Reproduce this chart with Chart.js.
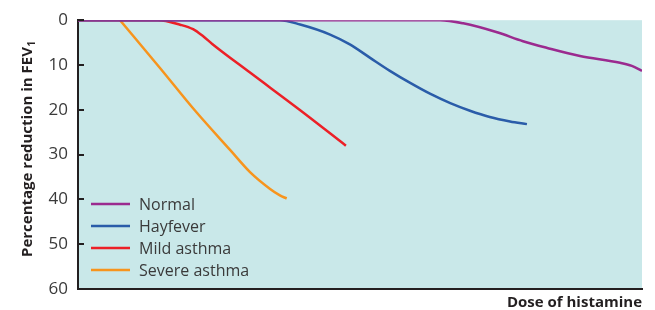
<!DOCTYPE html>
<html>
<head>
<meta charset="utf-8">
<script src="https://cdn.jsdelivr.net/npm/chart.js@4.4.1/dist/chart.umd.min.js"></script>
<style>
  html, body { margin: 0; padding: 0; background: #fff; }
  #wrap { width: 655px; height: 310px; }
</style>
</head>
<body>
<div id="wrap"><canvas id="chart"></canvas></div>
<script>
// Dose is on an arbitrary 0-100 scale (no tick labels on the x axis)
const normalDose = [0, 64.2, 68.3, 74.3, 78.9, 83.2, 89, 96.1, 98.2, 100];
const normalDrop = [0, 0, 0.7, 2.7, 4.7, 6.2, 8.0, 9.5, 10.2, 11.3];

const hayfeverDose = [0, 35.8, 39.4, 44.7, 48.2, 51.8, 55.3, 58.9, 62.4, 66, 69.5, 73, 76.6, 79.6];
const hayfeverDrop = [0, 0, 0.96, 3.2, 5.4, 8.4, 11.3, 14.0, 16.4, 18.5, 20.2, 21.6, 22.6, 23.2];

const mildDose = [0, 14.2, 18.1, 20.4, 22.2, 23.8, 30.5, 39.4, 47.5];
const mildDrop = [0, 0, 1.0, 2.0, 3.6, 5.3, 11.7, 20.1, 28.0];

const severeDose = [7.45, 14.5, 20.7, 27.0, 30.5, 34.0, 35.8, 37.0];
const severeDrop = [0, 10.6, 20.1, 29.0, 33.9, 37.6, 39.1, 39.8];

const seriesNames = ['Normal', 'Hayfever', 'Mild asthma', 'Severe asthma'];
const yTicks = [0, 10, 20, 30, 40, 50, 60];

const colors = {
    normal: '#9b2a8f',
    hayfever: '#2a5ca9',
    mild: '#ec2027',
    severe: '#f7941d',
    plotBg: '#c9e8e9',
    axis: '#231f20',
    text: '#3a3a3a'
};

const FONT = '"Open Sans", "Noto Sans", sans-serif';

function toPoints(xs, ys) {
    return xs.map((x, i) => ({ x: x, y: ys[i] }));
}

function lineSet(label, xs, ys, color) {
    return {
        label: label,
        data: toPoints(xs, ys),
        borderColor: color,
        backgroundColor: color,
        borderWidth: 2.5,
        pointRadius: 0,
        fill: false,
        cubicInterpolationMode: 'monotone'
    };
}

// background, inward ticks, y title and legend inside the plot
const decor = {
    id: 'decor',
    beforeDraw(chart) {
        const a = chart.chartArea;
        const ctx = chart.ctx;
        ctx.save();
        ctx.fillStyle = colors.plotBg;
        ctx.fillRect(a.left, a.top, a.right - a.left, a.bottom - a.top);
        ctx.restore();
    },
    afterDraw(chart) {
        const a = chart.chartArea;
        const ctx = chart.ctx;
        const yScale = chart.scales.y;
        ctx.save();

        // tick marks pointing into the plot
        ctx.strokeStyle = colors.axis;
        ctx.lineWidth = 2;
        yTicks.forEach(v => {
            const py = Math.round(yScale.getPixelForValue(v));
            ctx.beginPath();
            ctx.moveTo(a.left, py);
            ctx.lineTo(a.left + 6, py);
            ctx.stroke();
        });

        // y axis title with subscript 1
        ctx.translate(32, 257);
        ctx.rotate(-Math.PI / 2);
        ctx.fillStyle = colors.axis;
        ctx.textAlign = 'left';
        ctx.textBaseline = 'alphabetic';
        ctx.font = 'bold 15px ' + FONT;
        const main = 'Percentage reduction in FEV';
        ctx.fillText(main, 0, 0);
        const w = ctx.measureText(main).width;
        ctx.font = 'bold 10px ' + FONT;
        ctx.fillText('1', w + 0.5, 3);
        ctx.restore();

        // legend
        ctx.save();
        ctx.font = '16px ' + FONT;
        ctx.textBaseline = 'middle';
        ctx.textAlign = 'left';
        chart.data.datasets.forEach((ds, i) => {
            const y = 204 + i * 22;
            ctx.strokeStyle = ds.borderColor;
            ctx.lineWidth = 2.5;
            ctx.beginPath();
            ctx.moveTo(91, y);
            ctx.lineTo(130, y);
            ctx.stroke();
            ctx.fillStyle = colors.text;
            ctx.fillText(ds.label, 139, y + 1);
        });
        ctx.restore();
    }
};

new Chart(document.getElementById('chart'), {
    type: 'line',
    data: {
        datasets: [
            lineSet(seriesNames[0], normalDose, normalDrop, colors.normal),
            lineSet(seriesNames[1], hayfeverDose, hayfeverDrop, colors.hayfever),
            lineSet(seriesNames[2], mildDose, mildDrop, colors.mild),
            lineSet(seriesNames[3], severeDose, severeDrop, colors.severe)
        ]
    },
    options: {
        responsive: true,
        maintainAspectRatio: false,
        animation: false,
        layout: { padding: { top: 19, right: 13, left: 0, bottom: 0 } },
        plugins: {
            legend: { display: false },
            tooltip: { enabled: false }
        },
        scales: {
            x: {
                type: 'linear',
                min: 0,
                max: 100,
                ticks: { display: false },
                grid: { display: false, drawTicks: false },
                border: { display: true, color: colors.axis, width: 2 },
                title: {
                    display: true,
                    text: 'Dose of histamine',
                    align: 'end',
                    color: colors.axis,
                    padding: 0,
                    font: { family: FONT, size: 15, weight: 'bold', lineHeight: 1 }
                },
                afterFit(scale) { scale.height = 21; }
            },
            y: {
                type: 'linear',
                reverse: true,
                min: 0,
                max: 60,
                afterBuildTicks(scale) { scale.ticks = yTicks.map(v => ({ value: v })); },
                ticks: {
                    padding: 10,
                    color: colors.text,
                    font: { family: FONT, size: 17 }
                },
                grid: { display: false, drawTicks: false },
                border: { display: true, color: colors.axis, width: 2 },
                afterFit(scale) { scale.width = 78; }
            }
        }
    },
    plugins: [decor]
});
</script>
</body>
</html>
